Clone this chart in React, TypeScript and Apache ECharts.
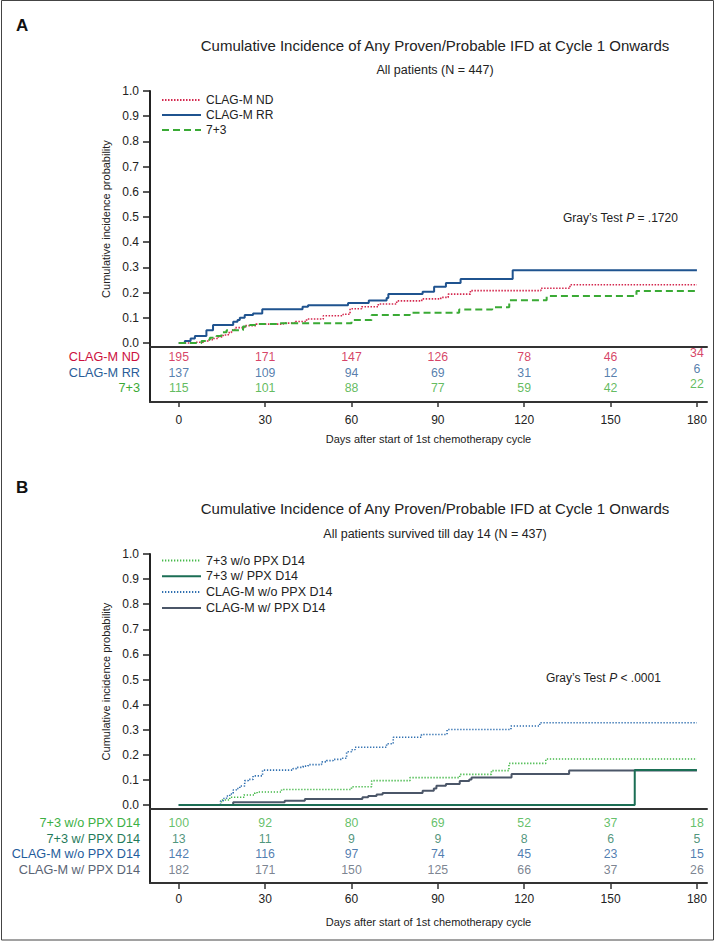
import React, { useEffect, useRef } from "react";
import * as echarts from "echarts";

// ---------- data ----------
const DAYS = [0, 30, 60, 90, 120, 150, 180];
const Y_TICKS = [0, 0.1, 0.2, 0.3, 0.4, 0.5, 0.6, 0.7, 0.8, 0.9, 1.0];

// Panel A
const A_GROUPS = ["CLAG-M ND", "CLAG-M RR", "7+3"];
const A_ND_CURVE = [[0,0],[5.6,0.003],[8.5,0.008],[10.2,0.013],[11.9,0.018],[13.7,0.024],[15.4,0.032],[17.2,0.041],[18.3,0.051],[19.5,0.061],[22.9,0.069],[26.8,0.075],[36.3,0.079],[40.5,0.085],[44.4,0.095],[50.2,0.108],[57.1,0.114],[59.5,0.136],[63.5,0.144],[69.3,0.155],[75.7,0.167],[84.4,0.175],[91,0.181],[93.6,0.194],[101.3,0.208],[125.8,0.217],[135.9,0.231],[180,0.231]];
const A_RR_CURVE = [[0,0],[2.1,0.008],[4.1,0.018],[5.6,0.028],[9.6,0.051],[11.9,0.071],[18.9,0.084],[20.4,0.091],[21.2,0.1],[22.9,0.111],[25.8,0.117],[29,0.134],[43,0.144],[44.9,0.15],[58.8,0.159],[66,0.169],[72.2,0.179],[72.8,0.194],[84.7,0.203],[88.7,0.223],[92.8,0.238],[97.9,0.254],[116,0.289],[180,0.289]];
const A_73_CURVE = [[0,0],[7.9,0.008],[9.6,0.013],[10.8,0.021],[13.1,0.028],[14.8,0.043],[16.6,0.051],[22.3,0.065],[24.7,0.071],[27,0.075],[35.1,0.078],[60,0.091],[67,0.111],[80.3,0.12],[97.4,0.133],[108.9,0.142],[114.8,0.17],[127.8,0.186],[159,0.206],[180,0.206]];
const A_ND_RISK = [195, 171, 147, 126, 78, 46, 34];
const A_RR_RISK = [137, 109, 94, 69, 31, 12, 6];
const A_73_RISK = [115, 101, 88, 77, 59, 42, 22];

// Panel B
const B_GROUPS = ["7+3 w/o PPX D14", "7+3 w/ PPX D14", "CLAG-M w/o PPX D14", "CLAG-M w/ PPX D14"];
const B_T_WO_CURVE = [[0,0],[14.8,0.02],[17.7,0.031],[22.6,0.04],[26.4,0.049],[27.2,0.052],[35.7,0.062],[60,0.073],[67,0.097],[80.3,0.109],[97.6,0.122],[108.6,0.137],[114.7,0.166],[127.5,0.183],[180,0.183]];
const B_T_W_CURVE = [[0,0],[158.4,0.139],[180,0.139]];
const B_C_WO_CURVE = [[0,0],[14.5,0.016],[15.4,0.026],[16.6,0.036],[17.7,0.044],[18.9,0.06],[20,0.066],[21.2,0.076],[22.9,0.097],[24.1,0.102],[25.8,0.116],[29.1,0.139],[39.7,0.145],[40.9,0.15],[43.2,0.155],[44.9,0.161],[49.6,0.172],[51.3,0.177],[53.6,0.182],[56.5,0.186],[58.3,0.212],[60,0.22],[61.2,0.23],[72.2,0.244],[74.5,0.27],[84.3,0.281],[93.2,0.301],[115.4,0.315],[125.4,0.328],[180,0.328]];
const B_C_W_CURVE = [[0,0],[18.9,0.011],[36.8,0.017],[43.8,0.024],[63.8,0.031],[65.8,0.036],[68.7,0.042],[70.8,0.048],[84.7,0.057],[88.6,0.066],[89.5,0.077],[92.8,0.084],[97.6,0.096],[100.9,0.102],[101.7,0.11],[115.6,0.124],[135.6,0.137],[180,0.137]];
const B_T_WO_RISK = [100, 92, 80, 69, 52, 37, 18];
const B_T_W_RISK = [13, 11, 9, 9, 8, 6, 5];
const B_C_WO_RISK = [142, 116, 97, 74, 45, 23, 15];
const B_C_W_RISK = [182, 171, 150, 125, 66, 37, 26];

// ---------- styling ----------
const FONT = '"Liberation Sans", Arial, Helvetica, sans-serif';
const INK = "#222";

const A_COLORS = ["#d4294f", "#1f538f", "#3aaa35"];
const A_TEXT = ["#cc1040", "#2a5d98", "#3aaa35"];
const B_COLORS = ["#46b94a", "#1b6e55", "#2f6fb0", "#4b5668"];
const B_TEXT = ["#3cb043", "#1f7a5a", "#1f5c9c", "#596474"];

const X_MIN = -10;
const X_MAX = 183.5;

function App() {
  const ref = useRef<HTMLDivElement>(null);

  useEffect(() => {
    document.body.style.margin = "0";
    if (!ref.current) return;
    const chart = echarts.init(ref.current, null, { renderer: "svg" });

    const plotX = (gridIndex: number) => ({
      type: "value", gridIndex, min: X_MIN, max: X_MAX,
      axisLine: { show: true, onZero: false, lineStyle: { color: "#333", width: 2 } },
      axisTick: { show: false }, axisLabel: { show: false }, splitLine: { show: false },
    });
    const tableX = (gridIndex: number, margin: number, nameGap: number, tickLen: number) => ({
      type: "value", gridIndex, min: X_MIN, max: X_MAX, position: "bottom",
      axisLine: { show: true, onZero: false, lineStyle: { color: "#333", width: 2 } },
      axisTick: { show: true, customValues: DAYS, length: tickLen, lineStyle: { color: "#333", width: 1.5 } },
      axisLabel: { show: true, customValues: DAYS, margin, fontSize: 12, color: INK, fontFamily: FONT },
      splitLine: { show: false },
      name: "Days after start of 1st chemotherapy cycle", nameLocation: "middle", nameGap,
      nameTextStyle: { fontSize: 11, color: INK, fontFamily: FONT },
    });
    const plotY = (gridIndex: number) => ({
      type: "value", gridIndex, min: -0.0159, max: 1.0,
      axisLine: { show: true, onZero: false, lineStyle: { color: "#222", width: 2 } },
      axisTick: { show: true, customValues: Y_TICKS, length: 7, lineStyle: { color: "#222", width: 1.5 } },
      axisLabel: { show: true, customValues: Y_TICKS, margin: 11, fontSize: 12, color: INK, fontFamily: FONT,
        formatter: (v: number) => v.toFixed(1) },
      splitLine: { show: false },
      name: "Cumulative incidence probability", nameLocation: "middle", nameGap: 36,
      nameTextStyle: { fontSize: 11, color: INK, fontFamily: FONT },
    });
    const tableY = (gridIndex: number, groups: string[], colors: string[], min: number, max: number) => {
      const rich: any = {};
      groups.forEach((g, i) => { rich["r" + (i + 1)] = { color: colors[i], fontSize: 12.7, fontFamily: FONT }; });
      return {
        type: "value", gridIndex, min, max, inverse: true,
        axisLine: { show: true, onZero: false, lineStyle: { color: "#222", width: 2 } },
        axisTick: { show: false }, splitLine: { show: false },
        axisLabel: { show: true, customValues: groups.map((_, i) => i + 1), margin: 10,
          formatter: (v: number) => `{r${Math.round(v)}|${groups[Math.round(v) - 1]}}`, rich },
      };
    };

    const line = (name: string, data: number[][], idx: number, color: string, type: any, width: number, z = 2) => ({
      type: "line", name, data, xAxisIndex: idx, yAxisIndex: idx, step: "end",
      showSymbol: false, symbol: "none", silent: true, z,
      lineStyle: { color, type, width }, itemStyle: { color },
    });
    const risk = (values: number[], row: number, idx: number, color: string, lastDy: number) => ({
      type: "scatter", xAxisIndex: idx, yAxisIndex: idx, silent: true, symbolSize: 1,
      itemStyle: { color: "rgba(0,0,0,0)" },
      data: values.map((v, i) => ({
        value: [DAYS[i], row, v],
        label: i === values.length - 1 && lastDy ? { offset: [0, lastDy] } : undefined,
      })),
      label: { show: true, position: "inside", formatter: (p: any) => String(p.value[2]),
        color, fontSize: 12.3, fontFamily: FONT },
    });

    const legendBase = {
      orient: "vertical", left: 156, itemWidth: 39, itemHeight: 12,
      selectedMode: false, itemStyle: { opacity: 0 },
    };

    const option: any = {
      animation: false,
      backgroundColor: "#fff",
      title: [
        { text: "A", left: 11, top: 12, textStyle: { fontSize: 17, fontWeight: "bold", color: "#111", fontFamily: FONT } },
        { text: "Cumulative Incidence of Any Proven/Probable IFD at Cycle 1 Onwards", left: 430, top: 33, textAlign: "center",
          textStyle: { fontSize: 15, fontWeight: "normal", color: INK, fontFamily: FONT } },
        { text: "All patients (N = 447)", left: 430, top: 58, textAlign: "center",
          textStyle: { fontSize: 12.5, fontWeight: "normal", color: INK, fontFamily: FONT } },
        { text: "Gray’s Test {i|P} = .1720", left: 558, top: 207,
          textStyle: { fontSize: 12, fontWeight: "normal", color: INK, fontFamily: FONT,
            rich: { i: { fontStyle: "italic", fontSize: 12, color: INK, fontFamily: FONT } } } },
        { text: "B", left: 11, top: 474, textStyle: { fontSize: 17, fontWeight: "bold", color: "#111", fontFamily: FONT } },
        { text: "Cumulative Incidence of Any Proven/Probable IFD at Cycle 1 Onwards", left: 430, top: 496, textAlign: "center",
          textStyle: { fontSize: 15, fontWeight: "normal", color: INK, fontFamily: FONT } },
        { text: "All patients survived till day 14 (N = 437)", left: 430, top: 522, textAlign: "center",
          textStyle: { fontSize: 12.5, fontWeight: "normal", color: INK, fontFamily: FONT } },
        { text: "Gray’s Test {i|P} < .0001", left: 541, top: 667,
          textStyle: { fontSize: 12, fontWeight: "normal", color: INK, fontFamily: FONT,
            rich: { i: { fontStyle: "italic", fontSize: 12, color: INK, fontFamily: FONT } } } },
      ],
      legend: [
        { ...legendBase, data: A_GROUPS, top: 89, itemGap: 3,
          textStyle: { fontSize: 12, color: INK, fontFamily: FONT } },
        { ...legendBase, data: B_GROUPS, top: 549, itemGap: 2.8,
          textStyle: { fontSize: 12.5, color: INK, fontFamily: FONT } },
      ],
      grid: [
        { left: 150, top: 91, width: 557, height: 256 },
        { left: 150, top: 347, width: 557, height: 55 },
        { left: 150, top: 554, width: 557, height: 255 },
        { left: 150, top: 809, width: 557, height: 74 },
      ],
      xAxis: [plotX(0), tableX(1, 12, 31.5, 5), plotX(2), tableX(3, 10, 33.5, 6)],
      yAxis: [
        plotY(0),
        tableY(1, A_GROUPS, A_TEXT, 0.323, 3.871),
        plotY(2),
        tableY(3, B_GROUPS, B_TEXT, 0.108, 4.82),
      ],
      series: [
        line(A_GROUPS[0], A_ND_CURVE, 0, A_COLORS[0], [1.5, 1.5], 1.6),
        line(A_GROUPS[1], A_RR_CURVE, 0, A_COLORS[1], "solid", 2),
        line(A_GROUPS[2], A_73_CURVE, 0, A_COLORS[2], [7, 4], 2),
        risk(A_ND_RISK, 1, 1, A_TEXT[0], -4),
        risk(A_RR_RISK, 2, 1, A_TEXT[1], -4),
        risk(A_73_RISK, 3, 1, A_TEXT[2], -4),
        line(B_GROUPS[0], B_T_WO_CURVE, 2, B_COLORS[0], [1.3, 1.7], 1.6),
        line(B_GROUPS[1], B_T_W_CURVE, 2, B_COLORS[1], "solid", 2, 4),
        line(B_GROUPS[2], B_C_WO_CURVE, 2, B_COLORS[2], [1.3, 1.7], 1.6),
        line(B_GROUPS[3], B_C_W_CURVE, 2, B_COLORS[3], "solid", 2, 3),
        risk(B_T_WO_RISK, 1, 3, B_TEXT[0], 0),
        risk(B_T_W_RISK, 2, 3, B_TEXT[1], 0),
        risk(B_C_WO_RISK, 3, 3, B_TEXT[2], 0),
        risk(B_C_W_RISK, 4, 3, B_TEXT[3], 0),
      ],
      graphic: [
        { type: "rect", shape: { x: 1.5, y: 0.5, width: 712, height: 939.5 },
          style: { fill: "none", stroke: "#444", lineWidth: 1 }, silent: true, z: 100 },
      ],
    };

    chart.setOption(option);
    return () => chart.dispose();
  }, []);

  return <div ref={ref} style={{ width: 720, height: 941 }} />;
}

export default App;
